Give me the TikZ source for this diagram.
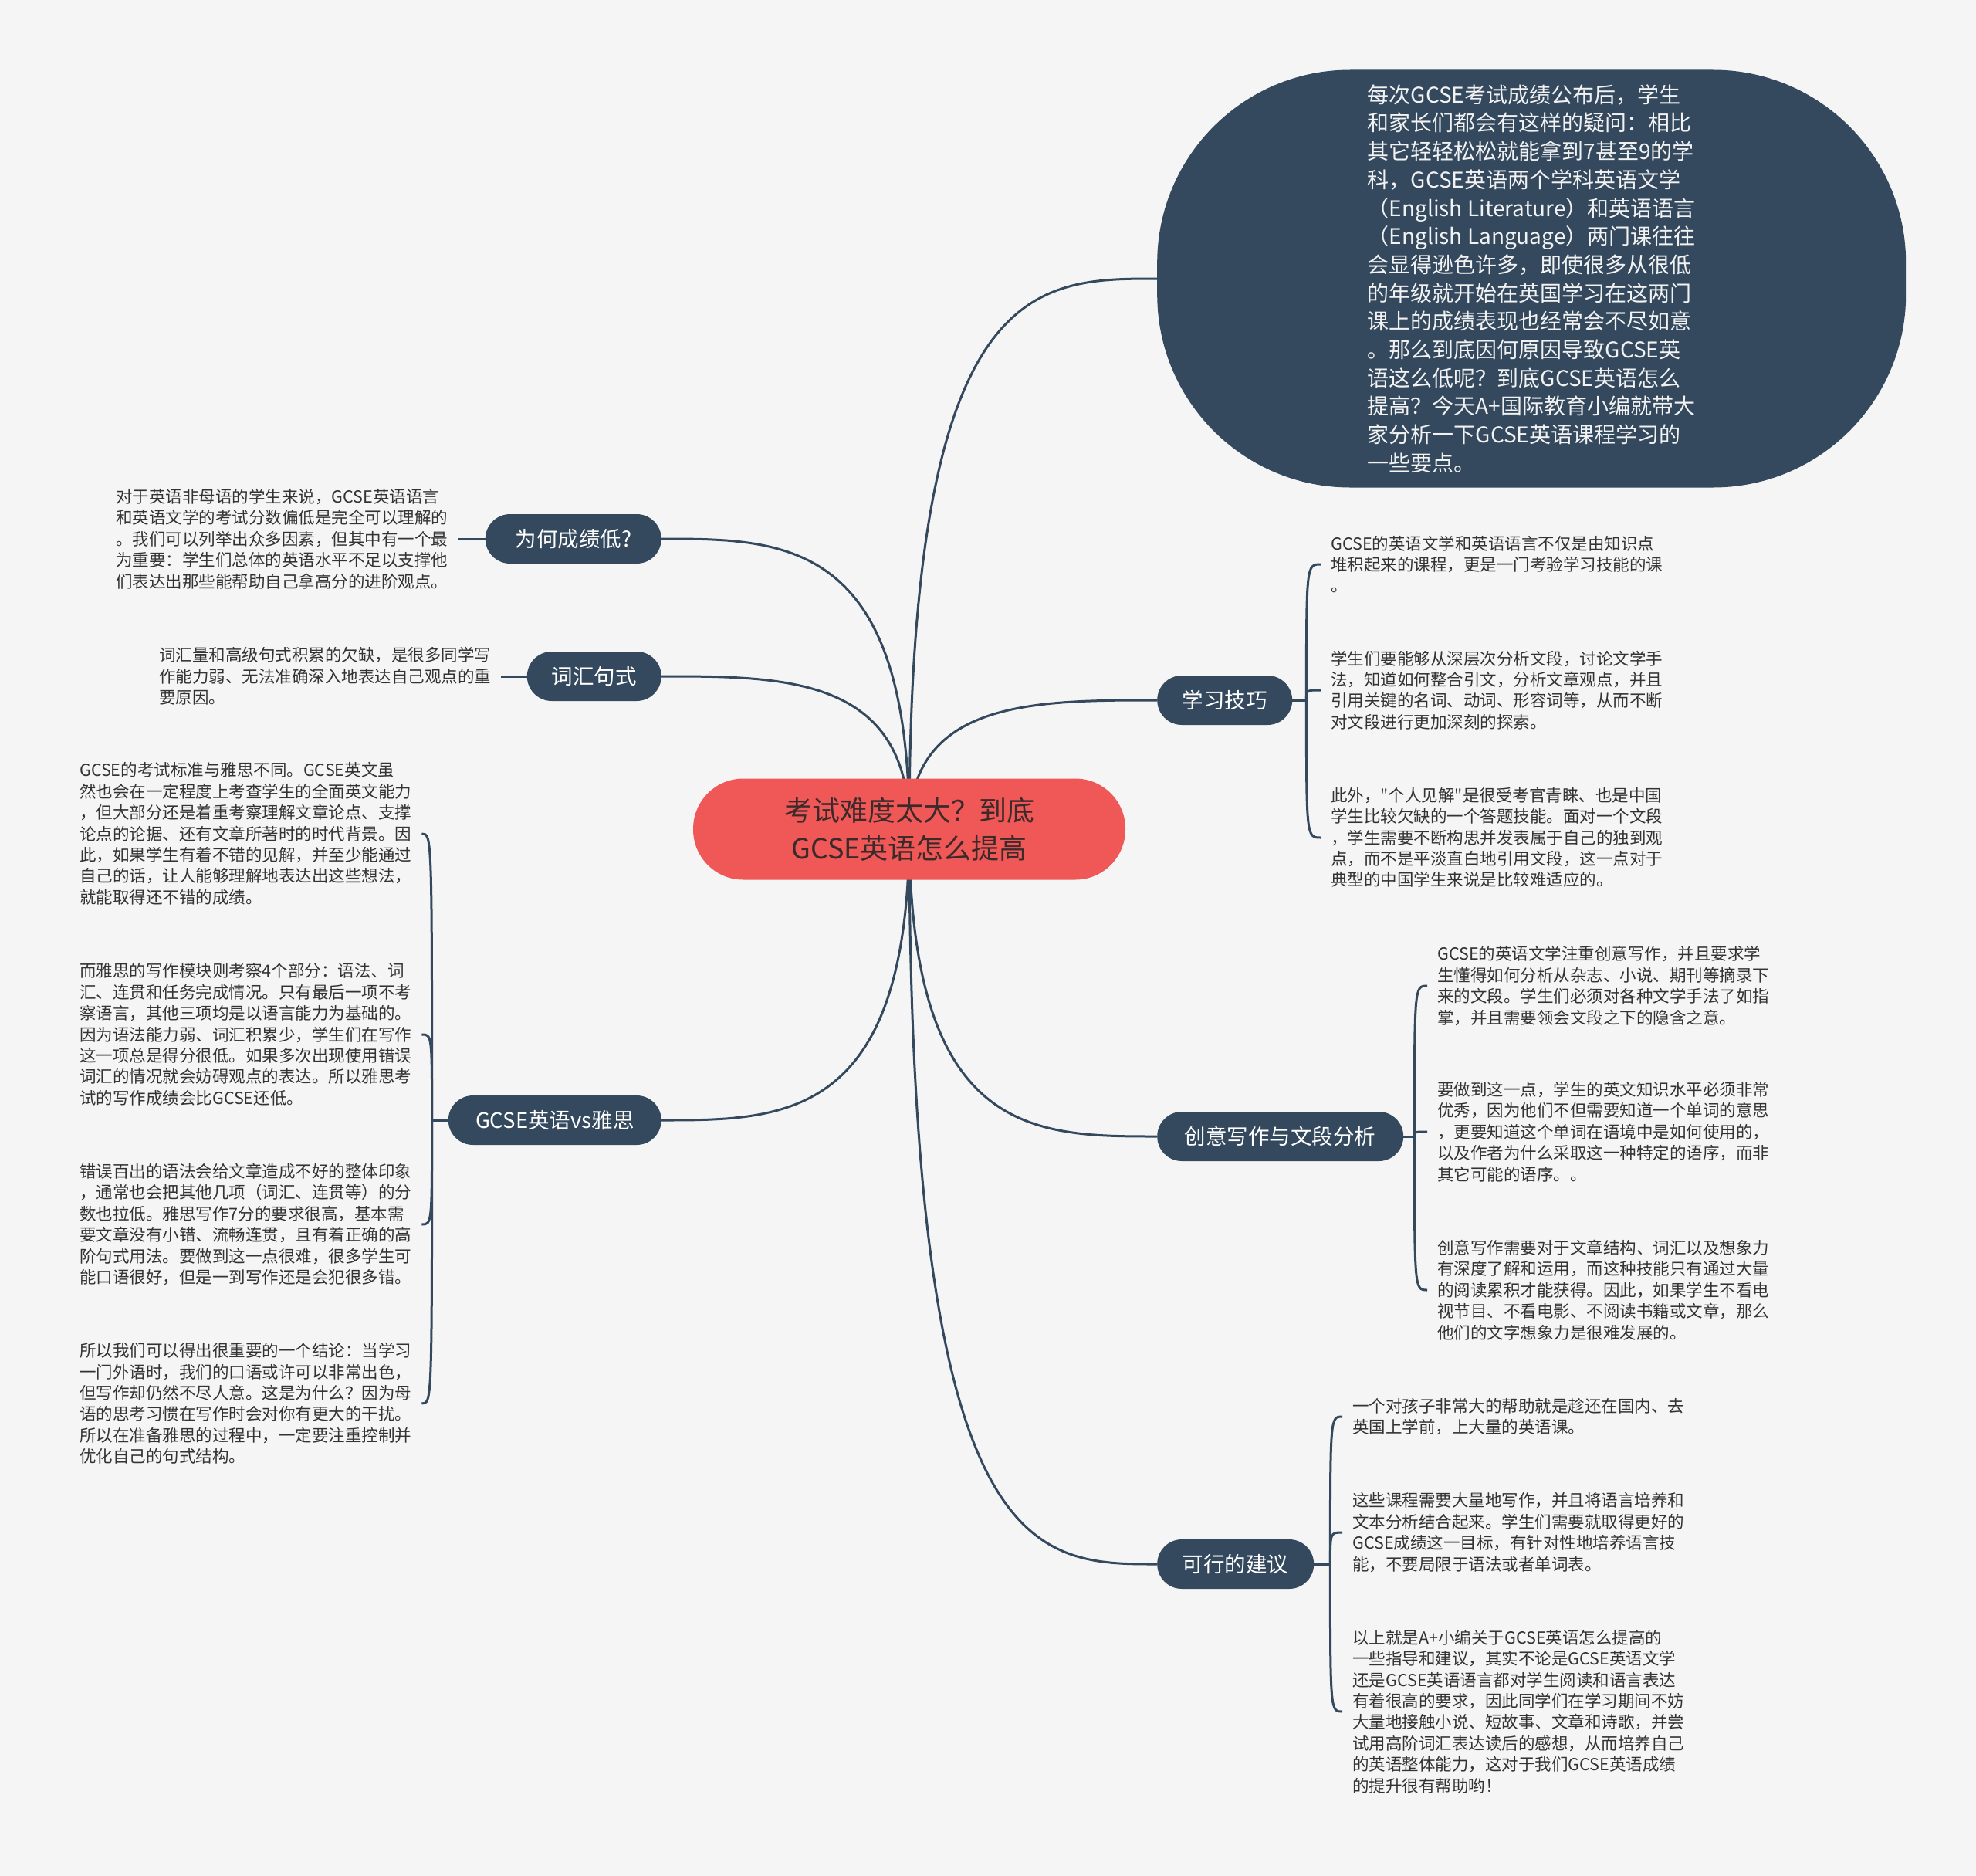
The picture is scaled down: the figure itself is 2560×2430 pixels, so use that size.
\documentclass[tikz,border=0pt]{standalone}
\usepackage{fontspec}
\setmainfont{Noto Sans CJK SC}[Ligatures=TeXOff]
\usetikzlibrary{backgrounds,calc}
\definecolor{bgc}{HTML}{F5F5F5}
\definecolor{navy}{HTML}{34495E}
\definecolor{redc}{HTML}{F05757}
\definecolor{ctext}{HTML}{3A2A2A}
\definecolor{leaftext}{HTML}{333333}
\definecolor{lighttext}{HTML}{F2F2F2}
\begin{document}
\begin{tikzpicture}[x=1pt,y=-1pt,
  conn/.style={draw=navy, line width=3pt},
  centernode/.style={fill=redc, text=ctext, rounded corners=65pt, minimum width=560pt, minimum height=131pt, align=center, font=\fontsize{36pt}{49pt}\selectfont},
  topnode/.style={fill=navy, text=lighttext, rounded corners=250pt, minimum width=970pt, minimum height=541pt, align=left, inner sep=0pt, font=\fontsize{28pt}{36.7pt}\selectfont},
  branch/.style={fill=navy, text=white, rounded corners=32pt, minimum height=64pt, inner xsep=8pt, font=\fontsize{27.5pt}{33pt}\selectfont},
  leaf/.style={text=leaftext, align=left, inner xsep=13pt, inner ysep=0pt, font=\fontsize{21.5pt}{27.4pt}\selectfont}
]
\begin{pgfonlayer}{background}
\fill[bgc] (0,0) rectangle (2560,2430);
\end{pgfonlayer}
\useasboundingbox (0,0) rectangle (2560,2430);

% central node
\node[centernode] (C) at (1178,1074) {考试难度太大？到底\\GCSE英语怎么提高};

% top node
\node[topnode, anchor=west] (T) at (1499,361) {每次GCSE考试成绩公布后，学生\\和家长们都会有这样的疑问：相比\\其它轻轻松松就能拿到7甚至9的学\\科，GCSE英语两个学科英语文学\\（English Literature）和英语语言\\（English Language）两门课往往\\会显得逊色许多，即使很多从很低\\的年级就开始在英国学习在这两门\\课上的成绩表现也经常会不尽如意\\。那么到底因何原因导致GCSE英\\语这么低呢？到底GCSE英语怎么\\提高？今天A+国际教育小编就带大\\家分析一下GCSE英语课程学习的\\一些要点。};

% branch nodes
\node[branch, minimum width=228pt, anchor=east] (N1) at (857,698) {为何成绩低?};
\node[branch, minimum width=174pt, anchor=east] (N2) at (857,876) {词汇句式};
\node[branch, minimum width=276pt, anchor=east] (N3) at (857,1451) {GCSE英语vs雅思};
\node[branch, minimum width=175pt, anchor=west] (N4) at (1499,907) {学习技巧};
\node[branch, minimum width=319pt, anchor=west] (N5) at (1499,1472) {创意写作与文段分析};
\node[branch, minimum width=203pt, anchor=west] (N6) at (1499,2026) {可行的建议};

% left leaves
\node[leaf, text width=430pt, anchor=west] (L1) at (137,698) {对于英语非母语的学生来说，GCSE英语语言\\和英语文学的考试分数偏低是完全可以理解的\\。我们可以列举出众多因素，但其中有一个最\\为重要：学生们总体的英语水平不足以支撑他\\们表达出那些能帮助自己拿高分的进阶观点。};
\node[leaf, text width=430pt, anchor=west] (L2) at (193,876) {词汇量和高级句式积累的欠缺，是很多同学写\\作能力弱、无法准确深入地表达自己观点的重\\要原因。};

\node[leaf, text width=430pt, anchor=west] (GA) at (90,1080) {GCSE的考试标准与雅思不同。GCSE英文虽\\然也会在一定程度上考查学生的全面英文能力\\，但大部分还是着重考察理解文章论点、支撑\\论点的论据、还有文章所著时的时代背景。因\\此，如果学生有着不错的见解，并至少能通过\\自己的话，让人能够理解地表达出这些想法，\\就能取得还不错的成绩。};
\node[leaf, text width=430pt, anchor=west] (GB) at (90,1340) {而雅思的写作模块则考察4个部分：语法、词\\汇、连贯和任务完成情况。只有最后一项不考\\察语言，其他三项均是以语言能力为基础的。\\因为语法能力弱、词汇积累少，学生们在写作\\这一项总是得分很低。如果多次出现使用错误\\词汇的情况就会妨碍观点的表达。所以雅思考\\试的写作成绩会比GCSE还低。};
\node[leaf, text width=430pt, anchor=west] (GC) at (90,1586) {错误百出的语法会给文章造成不好的整体印象\\，通常也会把其他几项（词汇、连贯等）的分\\数也拉低。雅思写作7分的要求很高，基本需\\要文章没有小错、流畅连贯，且有着正确的高\\阶句式用法。要做到这一点很难，很多学生可\\能口语很好，但是一到写作还是会犯很多错。};
\node[leaf, text width=430pt, anchor=west] (GD) at (90,1818) {所以我们可以得出很重要的一个结论：当学习\\一门外语时，我们的口语或许可以非常出色，\\但写作却仍然不尽人意。这是为什么？因为母\\语的思考习惯在写作时会对你有更大的干扰。\\所以在准备雅思的过程中，一定要注重控制并\\优化自己的句式结构。};

% right leaves: 学习技巧
\node[leaf, anchor=west] (S1) at (1711,731) {GCSE的英语文学和英语语言不仅是由知识点\\堆积起来的课程，更是一门考验学习技能的课\\。};
\node[leaf, anchor=west] (S2) at (1711,894) {学生们要能够从深层次分析文段，讨论文学手\\法，知道如何整合引文，分析文章观点，并且\\引用关键的名词、动词、形容词等，从而不断\\对文段进行更加深刻的探索。};
\node[leaf, anchor=west] (S3) at (1711,1085) {此外，"个人见解"是很受考官青睐、也是中国\\学生比较欠缺的一个答题技能。面对一个文段\\，学生需要不断构思并发表属于自己的独到观\\点，而不是平淡直白地引用文段，这一点对于\\典型的中国学生来说是比较难适应的。};

% right leaves: 创意写作与文段分析
\node[leaf, anchor=west] (W1) at (1849,1277) {GCSE的英语文学注重创意写作，并且要求学\\生懂得如何分析从杂志、小说、期刊等摘录下\\来的文段。学生们必须对各种文学手法了如指\\掌，并且需要领会文段之下的隐含之意。};
\node[leaf, anchor=west] (W2) at (1849,1466) {要做到这一点，学生的英文知识水平必须非常\\优秀，因为他们不但需要知道一个单词的意思\\，更要知道这个单词在语境中是如何使用的，\\以及作者为什么采取这一种特定的语序，而非\\其它可能的语序。。};
\node[leaf, anchor=west] (W3) at (1849,1671) {创意写作需要对于文章结构、词汇以及想象力\\有深度了解和运用，而这种技能只有通过大量\\的阅读累积才能获得。因此，如果学生不看电\\视节目、不看电影、不阅读书籍或文章，那么\\他们的文字想象力是很难发展的。};

% right leaves: 可行的建议
\node[leaf, anchor=west] (K1) at (1739,1835) {一个对孩子非常大的帮助就是趁还在国内、去\\英国上学前，上大量的英语课。};
\node[leaf, anchor=west] (K2) at (1739,1985) {这些课程需要大量地写作，并且将语言培养和\\文本分析结合起来。学生们需要就取得更好的\\GCSE成绩这一目标，有针对性地培养语言技\\能，不要局限于语法或者单词表。};
\node[leaf, anchor=west] (K3) at (1739,2217) {以上就是A+小编关于GCSE英语怎么提高的\\一些指导和建议，其实不论是GCSE英语文学\\还是GCSE英语语言都对学生阅读和语言表达\\有着很高的要求，因此同学们在学习期间不妨\\大量地接触小说、短故事、文章和诗歌，并尝\\试用高阶词汇表达读后的感想，从而培养自己\\的英语整体能力，这对于我们GCSE英语成绩\\的提升很有帮助哟！};

\begin{pgfonlayer}{background}
% main curves
\draw[conn] (C.center) .. controls +(0,-713) and +(-160,0) .. (T.west);
\draw[conn] (C.center) .. controls +(0,-167) and +(-160,0) .. (N4.west);
\draw[conn] (C.center) .. controls +(0,398) and +(-160,0) .. (N5.west);
\draw[conn] (C.center) .. controls +(0,952) and +(-160,0) .. (N6.west);
\draw[conn] (C.center) .. controls +(0,-376) and +(160,0) .. (N1.east);
\draw[conn] (C.center) .. controls +(0,-198) and +(160,0) .. (N2.east);
\draw[conn] (C.center) .. controls +(0,377) and +(160,0) .. (N3.east);
% single leaves
\draw[conn] (N1.west) -- (N1.west -| L1.east);
\draw[conn] (N2.west) -- (N2.west -| L2.east);
% brackets
\draw[conn] (N3.west) -- ++(-21,0) coordinate (b3);
\foreach \l in {GA,GB,GC,GD} \draw[conn] (b3) .. controls (b3 |- \l.east) .. (\l.east);
\draw[conn] (N4.east) -- ++(18,0) coordinate (b4);
\foreach \l in {S1,S2,S3} \draw[conn] (b4) .. controls (b4 |- \l.west) .. (\l.west);
\draw[conn] (N5.east) -- ++(14,0) coordinate (b5);
\foreach \l in {W1,W2,W3} \draw[conn] (b5) .. controls (b5 |- \l.west) .. (\l.west);
\draw[conn] (N6.east) -- ++(21,0) coordinate (b6);
\foreach \l in {K1,K2,K3} \draw[conn] (b6) .. controls (b6 |- \l.west) .. (\l.west);
\end{pgfonlayer}
\end{tikzpicture}
\end{document}
